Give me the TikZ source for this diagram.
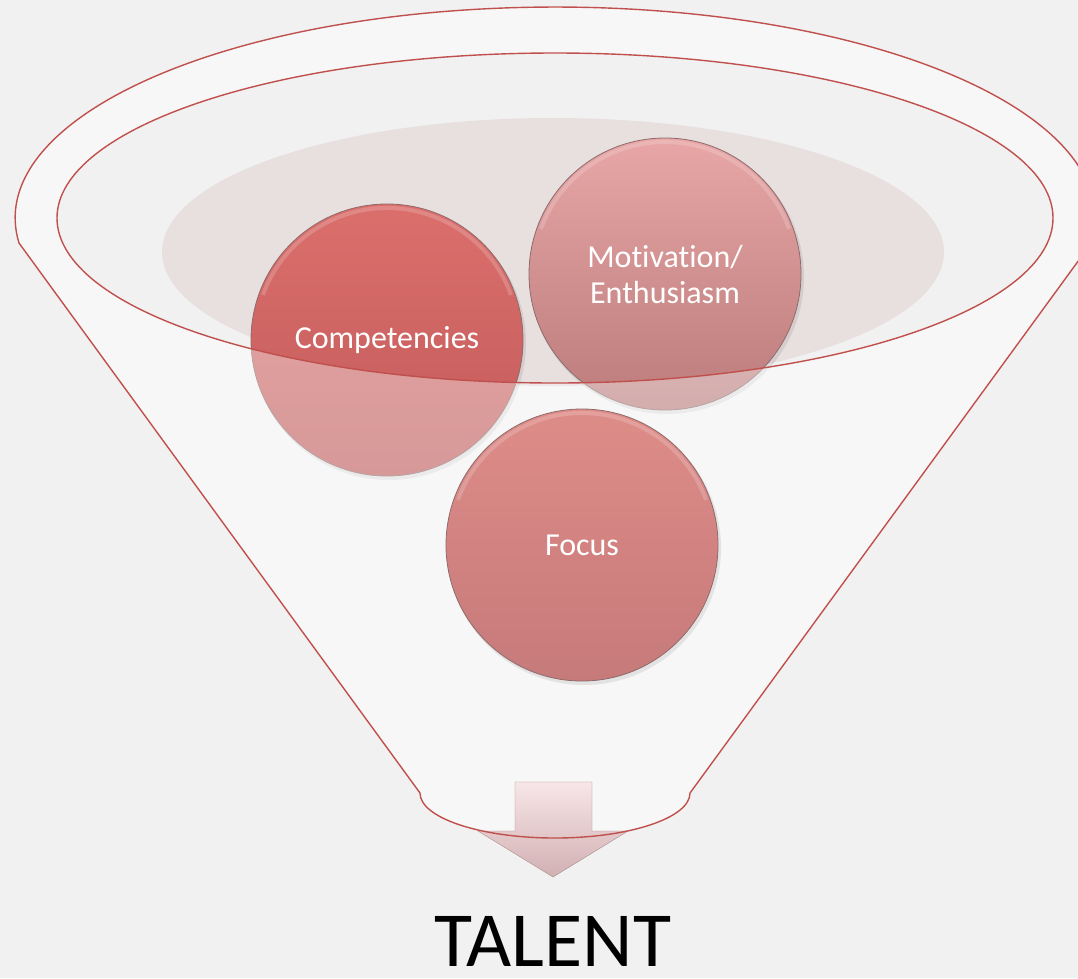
\documentclass[tikz,border=0pt]{standalone}
\usepackage{fontspec}
\setmainfont{Carlito}[Ligatures={NoCommon}]
\definecolor{bg}{HTML}{F1F1F1}
\definecolor{rim}{HTML}{F7F7F7}
\definecolor{innerfill}{HTML}{F1F1F1}
\definecolor{funred}{HTML}{C0504D}
\definecolor{shadowpink}{HTML}{E8DFDF}
\definecolor{bubbleedge}{HTML}{8E6B6B}
\definecolor{compTop}{HTML}{DB6F6C}
\definecolor{compBot}{HTML}{C25A5A}
\definecolor{motTop}{HTML}{E8A6A6}
\definecolor{motBot}{HTML}{BC7C7C}
\definecolor{focTop}{HTML}{DE8C88}
\definecolor{focBot}{HTML}{C67A7A}
\definecolor{arrTop}{HTML}{F7E6E8}
\definecolor{arrBot}{HTML}{D2B0B2}
\begin{document}
\begin{tikzpicture}[x=1pt,y=-1pt,
  bubble/.style={circle, minimum size=272pt, inner sep=0pt, draw=bubbleedge,
    line width=0.8pt, text=white, align=center,
    font=\fontsize{32}{36}\selectfont},
  outline/.style={draw=funred, line width=1.4pt},
  dropshade/.style={fill=black, opacity=0.08},
  bevel/.style={draw=white, opacity=0.18, line width=4pt}]
\fill[bg] (0,0) rectangle (1078,978);
\useasboundingbox (0,0) rectangle (1078,978);
\def\funnel{(19,243) arc[start angle=173.2, end angle=366.8, x radius=540, y radius=211] -- (690,793) arc[start angle=0, end angle=180, x radius=135, y radius=45] -- cycle}
\def\innerell{(555,218) ellipse[x radius=498, y radius=165]}
% funnel body
\fill[rim] \funnel;
\fill[innerfill] \innerell;
% pink shadow ellipse
\fill[shadowpink] (553,252) ellipse[x radius=391, y radius=134];
% back circles
\fill[dropshade] (389,343) circle[radius=137];
\fill[dropshade] (667,277) circle[radius=137];
\node[bubble, top color=compTop, bottom color=compBot] (comp) at (387,340) {Competencies};
\draw[bevel] (comp.center) ++(200:132) arc[start angle=200, end angle=340, radius=132];
\node[bubble, top color=motTop, bottom color=motBot] (mot) at (665,274) {Motivation/\\Enthusiasm};
\draw[bevel] (mot.center) ++(200:132) arc[start angle=200, end angle=340, radius=132];
% front of funnel (semi-transparent)
\fill[rim, opacity=0.4, even odd rule] \funnel \innerell;
% focus circle in front
\fill[dropshade] (584,548) circle[radius=137];
\node[bubble, top color=focTop, bottom color=focBot] (foc) at (582,545) {Focus};
\draw[bevel] (foc.center) ++(200:132) arc[start angle=200, end angle=340, radius=132];
% arrow
\path[top color=arrTop, bottom color=arrBot, draw=arrBot!80!black, line width=0.4pt]
  (515,782) -- (592,782) -- (592,831) -- (628,831) -- (553,877) -- (478,831) -- (515,831) -- cycle;
% outlines
\draw[outline] \funnel;
\draw[outline] \innerell;
\node[font=\fontsize{78}{86}\selectfont, anchor=base, text=black, inner sep=0pt, text depth=0pt] (talent) at (553,966) {TALENT};
\end{tikzpicture}
\end{document}
